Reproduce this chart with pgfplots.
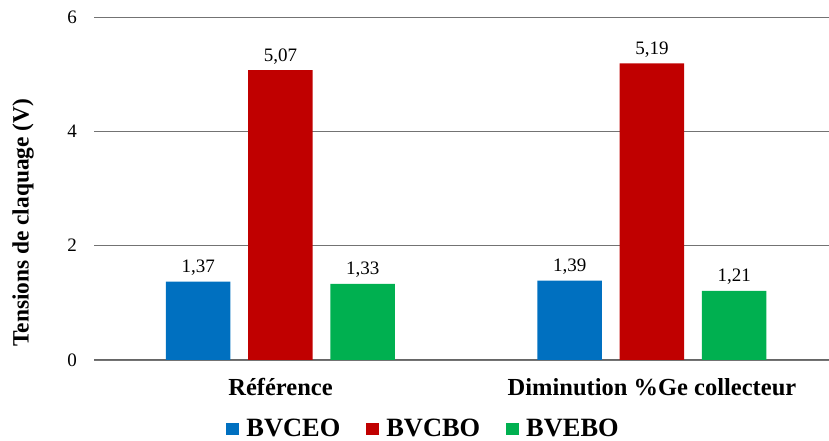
\documentclass[border=0pt]{standalone}
\usepackage{fontspec}
\setmainfont{Liberation Serif}
\usepackage{pgfplots}
\pgfplotsset{compat=1.18}
\definecolor{cblue}{HTML}{0070C0}
\definecolor{cred}{HTML}{C00000}
\definecolor{cgreen}{HTML}{00B050}
\begin{document}
\begin{tikzpicture}
\begin{axis}[
  at={(94pt,81pt)}, anchor=south west,
  scale only axis, width=735pt, height=343pt,
  xmin=-0.502, xmax=1.4765, ymin=0, ymax=6,
  enlargelimits=false,
  /pgf/number format/assume math mode=true,
  ytick={0,2,4,6},
  xtick={0,1},
  xticklabels={Référence, Diminution \%Ge collecteur},
  axis x line*=bottom, axis y line*=left,
  y axis line style={draw=none},
  x axis line style={-, draw=black!60, line width=1pt},
  tick style={draw=none},
  ymajorgrids,
  major grid style={draw=black!55, line width=0.8pt},
  yticklabel style={font=\fontsize{19}{22}\selectfont, anchor=east, inner sep=0pt, xshift=-17pt},
  xticklabel style={font=\bfseries\fontsize{24.5}{28}\selectfont, anchor=base, inner sep=0pt, yshift=-36pt},
  ylabel={Tensions de claquage (V)},
  ylabel style={font=\bfseries\fontsize{23.4}{26}\selectfont, at={(axis description cs:-0.0966,0.4)}, anchor=center},
  nodes near coords={\pgfmathprintnumber[fixed,fixed zerofill,precision=2,use comma]{\pgfplotspointmeta}},
  nodes near coords style={font=\fontsize{19}{22}\selectfont, anchor=base, inner sep=0pt, yshift=9pt, text=black},
  legend columns=3,
  legend cell align=left,
  legend style={at={(axis description cs:0.447,-0.201)}, anchor=center, draw=none, fill=none,
    font=\bfseries\fontsize{26.4}{30}\selectfont, column sep=0pt, inner sep=0pt, nodes={inner sep=0pt},
    /tikz/every even column/.append style={column sep=26pt}},
  legend image code/.code={\fill[#1] (0pt,-6pt) rectangle (13pt,6pt); \path (20pt,0pt);},
]
\addplot[ybar, bar width=0.1736, bar shift=-0.2214, fill=cblue, draw=none,
  every node near coord/.append style={xshift=-82.25pt}] coordinates {(0,1.37) (1,1.39)};
\addlegendentry{BVCEO}
\addplot[ybar, bar width=0.1736, bar shift=0, fill=cred, draw=none] coordinates {(0,5.07) (1,5.19)};
\addlegendentry{BVCBO}
\addplot[ybar, bar width=0.1736, bar shift=0.2214, fill=cgreen, draw=none,
  every node near coord/.append style={xshift=82.25pt}] coordinates {(0,1.33) (1,1.21)};
\addlegendentry{BVEBO}
\end{axis}
\pgfresetboundingbox
\path[use as bounding box] (0pt,0pt) rectangle (829pt,441pt);
\end{tikzpicture}
\end{document}
